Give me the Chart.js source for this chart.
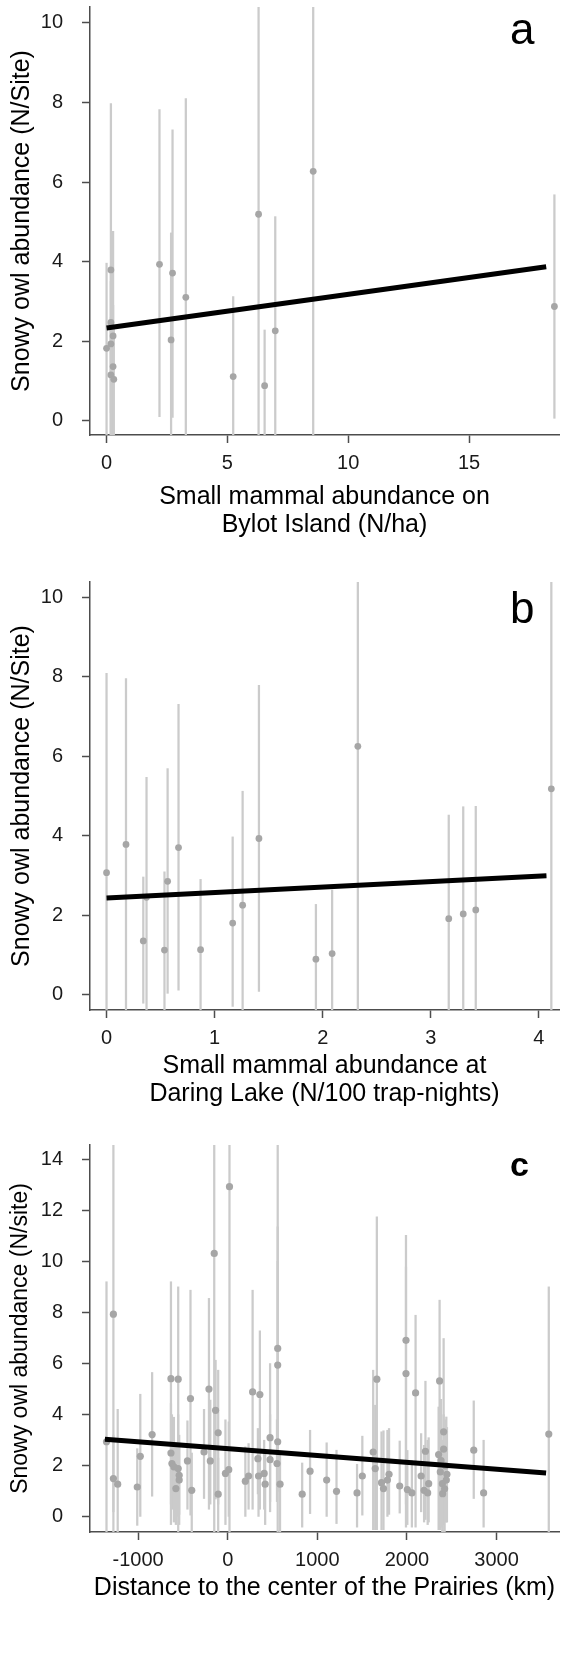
<!DOCTYPE html>
<html>
<head>
<meta charset="utf-8">
<script src="https://cdn.jsdelivr.net/npm/chart.js@4.4.1/dist/chart.umd.min.js"></script>
<style>
  body { margin: 0; background: #fff; }
  #page { position: relative; width: 563px; height: 1659px; overflow: hidden; font-family: "Liberation Sans", Arial, sans-serif; }
  canvas { position: absolute; left: 0; }
  .tag { position: absolute; color: #000; line-height: 1; }
</style>
</head>
<body>
<div id="page">
  <canvas id="chartA" width="563" height="545" style="top:0px"></canvas>
  <canvas id="chartB" width="563" height="555" style="top:560px"></canvas>
  <canvas id="chartC" width="563" height="539" style="top:1120px"></canvas>
  <div class="tag" style="left:510px; top:7px; font-size:44px;">a</div>
  <div class="tag" style="left:510px; top:586px; font-size:44px;">b</div>
  <div class="tag" style="left:510px; top:1147px; font-size:34px; font-weight:bold;">c</div>
</div>

<script>
// ---- panel a : Bylot Island
const aMammal = [0.0, 0.18, 0.18, 0.18, 0.18, 0.27, 0.27, 0.3, 2.19, 2.67, 2.73, 3.28, 5.24, 6.29, 6.54, 6.98, 8.55, 18.53];
const aOwl    = [1.82, 3.79, 2.47, 1.93, 1.15, 2.13, 1.36, 1.04, 3.93, 2.03, 3.71, 3.1, 1.11, 5.19, 0.88, 2.26, 6.27, 2.87];
const aLow    = [-1, -1, 0.2, -1, -1, -1, -1, -1, 0.1, -1, 0.08, -1, -1, -1, -1, -1, -1, 0.06];
const aHigh   = [3.96, 7.97, 3.9, 3.5, 2.6, 4.76, 2.9, 2.3, 7.82, 4.72, 7.31, 8.1, 3.12, 12, 2.28, 5.13, 12, 5.68];
const aFitX = [0, 18.19];
const aFitY = [2.33, 3.87];
const aTicksX = [0, 5, 10, 15];
const aTicksY = [0, 2, 4, 6, 8, 10];

// ---- panel b : Daring Lake
const bMammal = [0.0, 0.18, 0.34, 0.37, 0.536, 0.565, 0.666, 0.87, 1.167, 1.259, 1.41, 1.937, 2.087, 2.325, 3.166, 3.30, 3.416, 4.115];
const bOwl    = [3.07, 3.78, 1.35, 2.45, 1.12, 2.85, 3.7, 1.13, 1.8, 2.25, 3.93, 0.89, 1.03, 6.25, 1.91, 2.03, 2.13, 5.18];
const bLow    = [-1, -1, -0.22, -1, -1, 0.03, 0.11, -1, -0.3, -1, 0.08, -1, -1, -1, -1, -1, -1, -1];
const bHigh   = [8.09, 7.96, 2.96, 5.47, 3.09, 5.69, 7.31, 2.9, 3.97, 5.12, 7.79, 2.27, 2.63, 12, 4.52, 4.73, 4.74, 12];
const bFitX = [0, 4.07];
const bFitY = [2.43, 2.99];
const bTicksX = [0, 1, 2, 3, 4];
const bTicksY = [0, 2, 4, 6, 8, 10];

// ---- panel c : distance to the Prairies
const cDist = [-1352, -1275, -1275, -1227, -1009, -975, -843, -633, -633, -622, -600, -578, -552, -552, -541, -541,
  -449, -415, -401, -264, -209, -194, -150, -135, -106, -106, -25, 12, 20, 197, 233, 278, 337, 344, 359, 407, 418,
  473, 473, 550, 558, 558, 558, 584, 831, 919, 1104, 1214, 1443, 1502, 1623, 1646, 1664, 1716, 1738, 1782, 1800,
  1919, 1989, 1989, 2004, 2055, 2096, 2158, 2191, 2206, 2231, 2242, 2353, 2364, 2372, 2380, 2395, 2398, 2409, 2409,
  2420, 2430, 2439, 2446, 2745, 2855, 3582];
const cOwl = [2.94, 7.93, 1.5, 1.28, 1.17, 2.37, 3.22, 5.41, 2.5, 2.09, 1.96, 1.11, 5.39, 1.89, 1.63, 1.44,
  2.19, 4.63, 1.04, 2.54, 5.0, 2.19, 10.31, 4.17, 3.29, 0.89, 1.7, 1.85, 12.92, 1.4, 1.6, 4.89, 2.28, 1.6, 4.79, 1.7, 1.28,
  3.1, 2.24, 2.09, 2.94, 6.59, 5.94, 1.28, 0.89, 1.79, 1.44, 1.0, 0.94, 1.6, 2.54, 1.89, 5.39, 1.34, 1.11, 1.44, 1.67,
  1.21, 6.91, 5.61, 1.07, 0.94, 4.85, 1.6, 1.04, 2.57, 0.94, 1.3, 2.44, 5.32, 1.76, 2.2, 1.3, 0.91, 3.33, 2.65,
  1.1, 2.0, 1.44, 1.67, 2.61, 0.94, 3.24];
const cLow = [-0.6, -0.6, 0.2, -0.6, -0.33, 0.0, 0.81, -0.3, 0.5, 0.3, -0.2, -0.3, -0.6, 0.0, -0.3, 0.1,
  0.3, 0.07, -0.6, 0.72, 0.3, 0.5, -0.6, 0.7, 0.5, -0.6, -0.3, 0.0, -0.6, 0.0, 0.3, 0.3, 0.9, 0.0, 0.3, 0.3, -0.3,
  0.6, 0.2, 0.6, -0.6, 2.0, 1.0, -0.6, -0.4, 0.13, 0.0, -0.26, -0.4, 0.07, -0.5, -0.5, -0.5, -0.5, -0.5, 0.0, 0.1,
  0.15, -0.4, 0.5, -0.3, -0.4, -0.4, 0.2, -0.2, -0.1, -0.3, -0.2, -0.5, -0.5, -0.5, -0.4, -0.6, -0.6, -0.3, -0.3,
  -0.6, -0.2, -0.2, -0.2, 0.72, -0.4, -0.6];
const cHigh = [9.2, 15, 3.2, 4.21, 2.67, 4.8, 5.65, 9.2, 4.44, 4.0, 3.9, 2.9, 9.0, 4.0, 3.2, 2.9,
  3.76, 8.87, 2.5, 4.21, 8.55, 4.57, 15, 6.13, 5.74, 2.3, 3.8, 3.72, 15, 2.74, 2.87, 8.87, 3.46, 3.0, 7.28, 3.0, 2.5,
  6.0, 4.0, 3.8, 15, 11.35, 10.0, 2.5, 2.11, 3.39, 2.9, 2.61, 2.06, 3.16, 5.74, 4.37, 11.74, 3.33, 3.37, 3.39, 3.46,
  2.97, 11.02, 9.78, 2.6, 2.2, 7.89, 3.26, 2.8, 5.31, 3.0, 3.1, 4.3, 8.48, 3.6, 4.6, 3.0, 2.5, 6.98, 4.0,
  2.7, 3.8, 3.91, 3.5, 4.54, 3.0, 9.0];
const cFitX = [-1370, 3552];
const cFitY = [3.04, 1.72];
const cTicksX = [-1000, 0, 1000, 2000, 3000];
const cTicksY = [0, 2, 4, 6, 8, 10, 12, 14];

const fontName = '"Liberation Sans", Arial, sans-serif';
const axisGrey = '#4d4d4d';
const textCol = '#1a1a1a';

function fixTicks(list) {
  return function (scale) {
    scale.ticks = list.map(v => ({ value: v }));
  };
}

function drawPanel(id, p) {
  const bars = p.x.map((v, i) => ({ x: v, y: [p.lo[i], p.hi[i]] }));
  const pts = p.x.map((v, i) => ({ x: v, y: p.y[i] }));
  const fit = p.fitX.map((v, i) => ({ x: v, y: p.fitY[i] }));

  return new Chart(document.getElementById(id), {
    type: 'scatter',
    data: {
      datasets: [
        { type: 'line', data: fit, borderColor: '#000', borderWidth: 5, pointRadius: 0, fill: false, order: 1 },
        { type: 'scatter', data: pts, backgroundColor: '#a6a6a6', borderWidth: 0, pointRadius: p.dot, order: 2 },
        { type: 'bar', data: bars, backgroundColor: '#cbcbcb', borderWidth: 0, barThickness: 1.6, order: 3 }
      ]
    },
    options: {
      responsive: false,
      animation: false,
      events: [],
      layout: { padding: { top: p.padTop, left: 0, right: 0, bottom: 0 } },
      plugins: { legend: { display: false }, tooltip: { enabled: false } },
      scales: {
        x: {
          type: 'linear', min: p.xMin, max: p.xMax, offset: false,
          afterBuildTicks: fixTicks(p.ticksX),
          afterFit: s => { s.height = p.xHeight; s.paddingLeft = 0; s.paddingRight = 0; },
          border: { display: true, color: axisGrey, width: 1.5 },
          grid: { display: true, drawOnChartArea: false, drawTicks: true, tickLength: 8, tickColor: axisGrey, tickWidth: 1.5, offset: false },
          ticks: { autoSkip: false, maxRotation: 0, padding: 8, color: textCol, font: { family: fontName, size: 20 }, callback: v => String(v) },
          title: { display: true, text: p.xTitle, color: '#000', font: { family: fontName, size: 25, lineHeight: 1.12 }, padding: { top: 0, bottom: p.xTitlePad } }
        },
        y: {
          type: 'linear', min: p.yMin, max: p.yMax,
          afterBuildTicks: fixTicks(p.ticksY),
          afterFit: s => { s.width = 90; s.paddingTop = 0; s.paddingBottom = 0; },
          border: { display: true, color: axisGrey, width: 1.5 },
          grid: { display: true, drawOnChartArea: false, drawTicks: true, tickLength: 8, tickColor: axisGrey, tickWidth: 1.5 },
          ticks: { autoSkip: false, padding: 19, color: textCol, font: { family: fontName, size: 20 }, callback: v => String(v) },
          title: { display: true, text: p.yTitle, color: '#000', font: { family: fontName, size: p.yTitleSize, lineHeight: 1.2 }, padding: { top: 7, bottom: 0 } }
        }
      }
    }
  });
}

drawPanel('chartA', {
  x: aMammal, y: aOwl, lo: aLow, hi: aHigh, fitX: aFitX, fitY: aFitY,
  ticksX: aTicksX, ticksY: aTicksY,
  xMin: -0.685, xMax: 18.72, yMin: -0.36, yMax: 10.4,
  padTop: 7, xHeight: 110, xTitlePad: 6, dot: 3.4, yTitleSize: 25,
  xTitle: ['Small mammal abundance on', 'Bylot Island (N/ha)'],
  yTitle: 'Snowy owl abundance (N/Site)'
});

drawPanel('chartB', {
  x: bMammal, y: bOwl, lo: bLow, hi: bHigh, fitX: bFitX, fitY: bFitY,
  ticksX: bTicksX, ticksY: bTicksY,
  xMin: -0.153, xMax: 4.186, yMin: -0.39, yMax: 10.39,
  padTop: 22, xHeight: 105, xTitlePad: 7, dot: 3.4, yTitleSize: 25,
  xTitle: ['Small mammal abundance at', 'Daring Lake (N/100 trap-nights)'],
  yTitle: 'Snowy owl abundance (N/Site)'
});

drawPanel('chartC', {
  x: cDist, y: cOwl, lo: cLow, hi: cHigh, fitX: cFitX, fitY: cFitY,
  ticksX: cTicksX, ticksY: cTicksY,
  xMin: -1536, xMax: 3696, yMin: -0.59, yMax: 14.55,
  padTop: 25, xHeight: 127, xTitlePad: 57, dot: 3.6, yTitleSize: 23,
  xTitle: 'Distance to the center of the Prairies (km)',
  yTitle: 'Snowy owl abundance (N/site)'
});
</script>
</body>
</html>
